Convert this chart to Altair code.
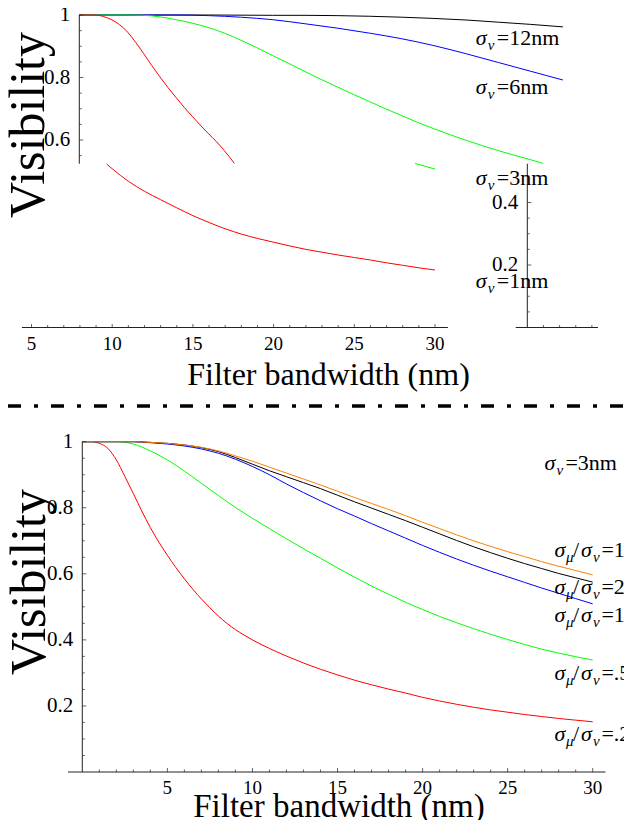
import altair as alt
import pandas as pd

# ---------------- data ----------------
# Top panel: visibility vs filter bandwidth for several sigma_nu
# upper part of the (broken) plot, values above ~0.525
t12_x = [0, 4, 8, 12, 14, 16, 18, 20, 22, 24, 26, 28, 30]
t12_y = [1, 1, 1, 0.999, 0.999, 0.998, 0.996, 0.993, 0.989, 0.984, 0.977, 0.970, 0.962]
t6_x = [0, 4, 6, 8, 10, 12, 14, 16, 18, 20, 22, 24, 26, 28, 30]
t6_y = [1, 1, 1, 0.998, 0.993, 0.985, 0.972, 0.958, 0.942, 0.924, 0.902, 0.876, 0.848, 0.820, 0.792]
t3_x = [0, 3, 4, 5, 6, 7, 8, 9, 10, 11, 12, 13, 14, 15, 16, 17, 18, 19, 20, 21, 22, 23, 24, 25, 26, 27, 28, 28.77]
t3_y = [1, 1, 0.999, 0.994, 0.985, 0.974, 0.960, 0.942, 0.920, 0.896, 0.870, 0.845, 0.819, 0.794, 0.770,
        0.746, 0.723, 0.700, 0.678, 0.656, 0.636, 0.617, 0.599, 0.582, 0.566, 0.551, 0.537, 0.525]
t1_x = [0, 1, 1.5, 2, 2.5, 3, 3.5, 4, 4.5, 5, 5.5, 6, 6.5, 7, 7.5, 8, 8.5, 9, 9.62]
t1_y = [1, 1, 0.995, 0.985, 0.969, 0.945, 0.912, 0.876, 0.838, 0.802, 0.768, 0.736, 0.705, 0.676, 0.648,
        0.621, 0.595, 0.566, 0.525]
# lower part of the broken plot (drawn against the shifted lower x axis)
t3b_x = [28.77, 30]
t3b_y = [0.525, 0.507]
t1b_x = [9.66, 10, 11, 12, 13, 14, 15, 16, 17, 18, 19, 20, 21, 22, 23, 24, 25, 26, 27, 28, 29, 30]
t1b_y = [0.523, 0.508, 0.468, 0.436, 0.409, 0.383, 0.358, 0.336, 0.316, 0.299, 0.285, 0.273, 0.261, 0.250,
         0.241, 0.232, 0.224, 0.216, 0.207, 0.199, 0.191, 0.184]

# Bottom panel: sigma_nu = 3nm, several sigma_mu/sigma_nu
b_x = [0, 0.5, 1, 1.5, 2, 2.5, 3, 3.5, 4, 4.5, 5, 5.5, 6, 6.5, 7, 7.5, 8, 8.5, 9, 9.5, 10, 11, 12, 13,
       14, 15, 16, 17, 18, 19, 20, 21, 22, 23, 24, 25, 26, 27, 28, 29, 30]
r02_y = [1, 1, 0.995, 0.980, 0.945, 0.895, 0.843, 0.790, 0.740, 0.696, 0.656, 0.619, 0.585, 0.553, 0.524,
         0.497, 0.472, 0.450, 0.431, 0.415, 0.400, 0.374, 0.351, 0.330, 0.311, 0.294, 0.278, 0.264, 0.251,
         0.239, 0.226, 0.215, 0.205, 0.196, 0.188, 0.181, 0.174, 0.168, 0.162, 0.157, 0.152]
c_x = [0, 2, 3, 4, 5, 6, 7, 8, 9, 10, 11, 12, 13, 14, 15, 16, 17, 18, 19, 20, 21, 22, 23, 24, 25, 26,
       27, 28, 29, 30]
r05_y = [1, 1, 0.993, 0.972, 0.945, 0.911, 0.874, 0.837, 0.801, 0.768, 0.737, 0.706, 0.676, 0.647, 0.618,
         0.590, 0.563, 0.538, 0.514, 0.492, 0.471, 0.452, 0.434, 0.417, 0.401, 0.386, 0.372, 0.360, 0.349, 0.339]
r1_y = [1, 1, 1, 0.997, 0.993, 0.987, 0.978, 0.965, 0.947, 0.925, 0.900, 0.872, 0.846, 0.821, 0.797,
        0.775, 0.752, 0.730, 0.708, 0.686, 0.665, 0.645, 0.626, 0.608, 0.591, 0.574, 0.557, 0.541, 0.525, 0.509]
r2_y = [1, 1, 1, 0.998, 0.995, 0.990, 0.982, 0.970, 0.952, 0.932, 0.912, 0.894, 0.876, 0.858, 0.838,
        0.818, 0.799, 0.780, 0.761, 0.741, 0.721, 0.701, 0.682, 0.664, 0.647, 0.631, 0.616, 0.601, 0.588, 0.575]
r10_y = [1, 1, 1, 0.998, 0.995, 0.990, 0.983, 0.972, 0.957, 0.941, 0.923, 0.905, 0.887, 0.869, 0.850,
         0.831, 0.813, 0.795, 0.776, 0.756, 0.737, 0.718, 0.700, 0.683, 0.667, 0.652, 0.637, 0.623, 0.610, 0.597]

# tick values / labels
tu_major, tu_labels = [1, 0.8, 0.6], ["1", "0.8", "0.6"]
tu_minor = [0.95, 0.9, 0.85, 0.75, 0.7, 0.65, 0.55]
tl_major, tl_labels = [0.4, 0.2], ["0.4", "0.2"]
tl_minor = [0.35, 0.3, 0.25, 0.15, 0.1, 0.05]
tx_major = [5, 10, 15, 20, 25, 30]
tx_labels = ["5", "10", "15", "20", "25", "30"]
tx_minor = [v for v in range(6, 30) if v % 5]
seg2_ticks = [36.72, 37.72, 38.72, 39.72]
b_ymajor, b_ylabels = [1, 0.8, 0.6, 0.4, 0.2], ["1", "0.8", "0.6", "0.4", "0.2"]
b_yminor = [0.95, 0.9, 0.85, 0.75, 0.7, 0.65, 0.55, 0.5, 0.45, 0.35, 0.3, 0.25, 0.15, 0.1, 0.05]
b_xmajor, b_xlabels = [5, 10, 15, 20, 25, 30], ["5", "10", "15", "20", "25", "30"]
b_xminor = [v for v in range(1, 30) if v % 5]

# curve annotations
top_lab_x = [24.6, 24.6, 24.6, 24.6]
top_lab_y = [0.904, 0.746, 0.456, 0.126]
top_lab_t = ["=12nm", "=6nm", "=3nm", "=1nm"]
bot_lab_x = [27.75, 27.75, 27.75, 27.75, 27.75]
bot_lab_y = [0.652, 0.539, 0.455, 0.279, 0.094]
bot_lab_t = ["=10", "=2", "=1", "=.5", "=.2"]

# ---------------- build ----------------
SERIF = "Liberation Serif"
AX = "#222222"
series = ["s12", "s6", "s3", "s1", "r10", "r2", "r1", "r05", "r02"]
colors = ["#000000", "#0000ff", "#00ff00", "#ff0000", "#ff8000", "#000000", "#0000ff", "#00ff00", "#ff0000"]
COLOR = alt.Scale(domain=series, range=colors)


def S(dom, rng):
    return alt.Scale(domain=dom, range=rng, nice=False, zero=False)


TUx = S([0, 30], [71.3, 554.9])     # upper part of top panel
TLx = S([5, 30], [23.5, 427.0])     # lower part of top panel
Ty = S([0, 1], [319.5, 7.0])
Bx = S([0, 30], [74.3, 584.7])
By = S([0, 1], [764.0, 433.7])


def frame(pairs):
    rows = []
    for name, xs, ys in pairs:
        rows += [{"series": name, "v": a, "val": b} for a, b in zip(xs, ys)]
    return pd.DataFrame(rows)


def curves(df, xs, ys):
    return alt.Chart(df).mark_line(strokeWidth=1, interpolate="monotone").encode(
        x=alt.X("v:Q", scale=xs, axis=None),
        y=alt.Y("val:Q", scale=ys, axis=None),
        color=alt.Color("series:N", scale=COLOR, legend=None),
        order="v:Q",
    )


def hline(x0, x1, y, xs, ys):
    d = pd.DataFrame({"x": [x0], "x2": [x1], "y": [y]})
    return alt.Chart(d).mark_rule(color=AX, strokeWidth=1).encode(
        x=alt.X("x:Q", scale=xs, axis=None), x2="x2:Q", y=alt.Y("y:Q", scale=ys, axis=None))


def vline(x, y0, y1, xs, ys):
    d = pd.DataFrame({"x": [x], "y": [y0], "y2": [y1]})
    return alt.Chart(d).mark_rule(color=AX, strokeWidth=1).encode(
        x=alt.X("x:Q", scale=xs, axis=None), y=alt.Y("y:Q", scale=ys, axis=None), y2="y2:Q")


def yticks(x, vals, length, xs, ys):
    d = pd.DataFrame({"x": [x] * len(vals), "y": vals})
    return alt.Chart(d).mark_tick(orient="horizontal", size=length, thickness=1, color=AX,
                                  xOffset=length / 2).encode(
        x=alt.X("x:Q", scale=xs, axis=None), y=alt.Y("y:Q", scale=ys, axis=None))


def xticks(y, vals, length, xs, ys):
    d = pd.DataFrame({"x": vals, "y": [y] * len(vals)})
    return alt.Chart(d).mark_tick(orient="vertical", size=length, thickness=1, color=AX,
                                  yOffset=-length / 2).encode(
        x=alt.X("x:Q", scale=xs, axis=None), y=alt.Y("y:Q", scale=ys, axis=None))


def ylabels(x, vals, labs, xs, ys):
    d = pd.DataFrame({"x": [x] * len(vals), "y": vals, "t": labs})
    return alt.Chart(d).mark_text(align="right", baseline="middle", dx=-9, font=SERIF,
                                  fontSize=21, color="black").encode(
        x=alt.X("x:Q", scale=xs, axis=None), y=alt.Y("y:Q", scale=ys, axis=None), text="t:N")


def xlabels(y, vals, labs, xs, ys):
    d = pd.DataFrame({"x": vals, "y": [y] * len(vals), "t": labs})
    return alt.Chart(d).mark_text(align="center", baseline="middle", dy=16, font=SERIF,
                                  fontSize=19, color="black").encode(
        x=alt.X("x:Q", scale=xs, axis=None), y=alt.Y("y:Q", scale=ys, axis=None), text="t:N")


def textpiece(d, xs, ys, text, dx, dy=0, size=22, italic=False):
    enc = dict(x=alt.X("x:Q", scale=xs, axis=None), y=alt.Y("y:Q", scale=ys, axis=None))
    enc["text"] = alt.value(text) if text is not None else alt.Text("t:N")
    return alt.Chart(d).mark_text(align="left", baseline="alphabetic", dx=dx, dy=dy, font=SERIF,
                                  fontSize=size, fontStyle="italic" if italic else "normal",
                                  color="black").encode(**enc)


def nu_label(d, xs, ys):
    return [textpiece(d, xs, ys, "σ", 0, italic=True),
            textpiece(d, xs, ys, "ν", 12, 5, 15, True),
            textpiece(d, xs, ys, None, 21)]


def ratio_label(d, xs, ys):
    return [textpiece(d, xs, ys, "σ", 0, italic=True),
            textpiece(d, xs, ys, "μ", 11.5, 5, 15, True),
            textpiece(d, xs, ys, "/", 18.5),
            textpiece(d, xs, ys, "σ", 26.5, italic=True),
            textpiece(d, xs, ys, "ν", 38.5, 5, 15, True),
            textpiece(d, xs, ys, None, 47)]


def title(text, x, y, angle=0, size=32):
    d = pd.DataFrame({"t": [text]})
    return alt.Chart(d).mark_text(align="center", baseline="alphabetic", angle=angle, font=SERIF,
                                  fontSize=size, color="black").encode(
        x=alt.value(x), y=alt.value(y), text="t:N")


layers = []
# ---- top panel ----
layers.append(curves(frame([("s12", t12_x, t12_y), ("s6", t6_x, t6_y), ("s3", t3_x, t3_y),
                            ("s1", t1_x, t1_y)]), TUx, Ty))
layers.append(curves(frame([("s3", t3b_x, t3b_y), ("s1", t1b_x, t1b_y)]), TLx, Ty))
layers.append(vline(0, 0.524, 1, TUx, Ty))
layers.append(yticks(0, tu_major, 4, TUx, Ty))
layers.append(yticks(0, tu_minor, 2.5, TUx, Ty))
layers.append(ylabels(0, tu_major, tu_labels, TUx, Ty))
layers.append(vline(35.72, 0, 0.524, TLx, Ty))
layers.append(yticks(35.72, tl_major, 4, TLx, Ty))
layers.append(yticks(35.72, tl_minor, 2.5, TLx, Ty))
layers.append(ylabels(35.72, tl_major, tl_labels, TLx, Ty))
layers.append(hline(4.41, 30.8, 0, TLx, Ty))
layers.append(xticks(0, tx_major, 3.5, TLx, Ty))
layers.append(xticks(0, tx_minor, 2.5, TLx, Ty))
layers.append(xlabels(0, tx_major, tx_labels, TLx, Ty))
layers.append(hline(35.0, 40.1, 0, TLx, Ty))
layers.append(xticks(0, seg2_ticks, 2.5, TLx, Ty))
top_lab = pd.DataFrame({"x": top_lab_x, "y": top_lab_y, "t": top_lab_t})
layers += nu_label(top_lab, TUx, Ty)
layers.append(title("Visibility", 36, 117, angle=270, size=50))
layers.append(title("Filter bandwidth (nm)", 320.5, 377))

# ---- separator ----
layers.append(alt.Chart(pd.DataFrame({"a": [0]})).mark_rule(
    color="black", strokeWidth=3.5, strokeDash=[13, 13, 4, 13]).encode(
    x=alt.value(0), x2=alt.value(616), y=alt.value(398)))

# ---- bottom panel ----
layers.append(curves(frame([("r02", b_x, r02_y), ("r05", c_x, r05_y), ("r1", c_x, r1_y),
                            ("r2", c_x, r2_y), ("r10", c_x, r10_y)]), Bx, By))
layers.append(vline(0, 0, 1, Bx, By))
layers.append(yticks(0, b_ymajor, 4, Bx, By))
layers.append(yticks(0, b_yminor, 2.5, Bx, By))
layers.append(ylabels(0, b_ymajor, b_ylabels, Bx, By))
layers.append(hline(-0.84, 30.75, 0, Bx, By))
layers.append(xticks(0, b_xmajor, 4, Bx, By))
layers.append(xticks(0, b_xminor, 2.5, Bx, By))
layers.append(xlabels(0, b_xmajor, b_xlabels, Bx, By))
nu3 = pd.DataFrame({"x": [27.16], "y": [0.915], "t": ["=3nm"]})
layers += nu_label(nu3, Bx, By)
bot_lab = pd.DataFrame({"x": bot_lab_x, "y": bot_lab_y, "t": bot_lab_t})
layers += ratio_label(bot_lab, Bx, By)
layers.append(title("Visibility", 37, 574, angle=270, size=50))
layers.append(title("Filter bandwidth (nm)", 331, 809, size=33))

chart = alt.layer(*layers).resolve_scale(x="independent", y="independent").properties(
    width=616, height=812, padding=0, autosize=alt.AutoSizeParams(type="none")
).configure_view(stroke=None)

chart.save("out.html", embed_options={"renderer": "svg", "actions": False})
